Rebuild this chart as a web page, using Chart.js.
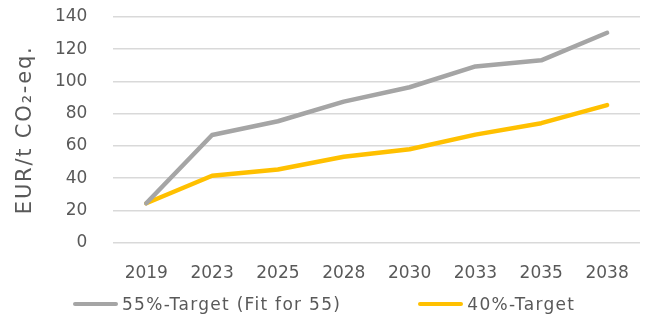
<!DOCTYPE html>
<html>
<head>
<meta charset="utf-8">
<script src="https://cdn.jsdelivr.net/npm/chart.js@4/dist/chart.umd.min.js"></script>
<style>
  html, body { margin: 0; padding: 0; background: #fff; }
  #wrap { position: relative; width: 649px; height: 325px; }
  #legend {
    position: absolute; left: 73px; top: 294px;
    display: flex; align-items: center;
    font-family: "DejaVu Sans", sans-serif;
    font-size: 17px; letter-spacing: 1.3px; color: #595959;
  }
  #legend .item { display: flex; align-items: center; }
  #legend .item + .item { margin-left: 77px; }
  #legend .swatch { width: 45px; height: 4px; border-radius: 2px; margin-right: 4px; }
</style>
</head>
<body>
<div id="wrap">
  <canvas id="chart" width="649" height="325"></canvas>
  <div id="legend"></div>
</div>
<script>
// CO2 price paths, EUR/t
const years = ["2019", "2023", "2025", "2028", "2030", "2033", "2035", "2038"];
const target55 = [24.4, 66.8, 75.3, 87.5, 96.4, 109.3, 113.1, 130.2];
const target40 = [24.4, 41.5, 45.4, 53.3, 57.9, 67.0, 74.1, 85.3];
const seriesNames = ["55%-Target (Fit for 55)", "40%-Target"];
const seriesColors = ["#a5a5a5", "#ffc000"];

const fontFamily = '"DejaVu Sans", sans-serif';
const textColor = '#595959';

// the axis title is drawn together with the grid (z -1), tick labels come later (z 1),
// so a bit of letter spacing can be given to the title alone
const titleSpacing = {
    id: 'titleSpacing',
    beforeDraw(chart) { chart.ctx.letterSpacing = '1.8px'; },
    beforeDatasetsDraw(chart) { chart.ctx.letterSpacing = '0px'; },
    afterDraw(chart) { chart.ctx.letterSpacing = '0px'; }
};

const chart = new Chart(document.getElementById('chart'), {
    type: 'line',
    data: {
        labels: years,
        datasets: [
            { label: seriesNames[0], data: target55, borderColor: seriesColors[0], backgroundColor: seriesColors[0] },
            { label: seriesNames[1], data: target40, borderColor: seriesColors[1], backgroundColor: seriesColors[1] }
        ]
    },
    options: {
        responsive: false,
        animation: false,
        layout: { padding: { top: 17, right: 9, bottom: 29, left: 13 } },
        elements: {
            line: { borderWidth: 4.5, tension: 0, borderCapStyle: 'round', borderJoinStyle: 'round' },
            point: { radius: 0, hoverRadius: 0 }
        },
        plugins: {
            legend: { display: false },
            tooltip: { enabled: false }
        },
        scales: {
            x: {
                offset: true,
                grid: { display: false },
                border: { display: false },
                ticks: { z: 1, color: textColor, font: { family: fontFamily, size: 17 }, padding: 12.5, maxRotation: 0 }
            },
            y: {
                min: 0,
                max: 140,
                ticks: { z: 1, stepSize: 20, color: textColor, font: { family: fontFamily, size: 17 }, padding: 6 },
                // tick marks kept invisible, they only hold the gap between labels and grid
                grid: { color: '#d9d9d9', lineWidth: 1.5, drawTicks: true, tickLength: 20, tickColor: 'rgba(0,0,0,0)' },
                border: { display: false },
                title: {
                    display: true,
                    text: 'EUR/t CO₂-eq.',
                    color: textColor,
                    font: { family: fontFamily, size: 21 },
                    padding: { top: 0, bottom: 10.7 }
                }
            }
        }
    },
    plugins: [titleSpacing]
});

// legend built from the chart's datasets
const legendEl = document.getElementById('legend');
chart.data.datasets.forEach(ds => {
    legendEl.innerHTML += `<div class="item"><span class="swatch" style="background:${ds.borderColor}"></span><span>${ds.label}</span></div>`;
});
</script>
</body>
</html>
